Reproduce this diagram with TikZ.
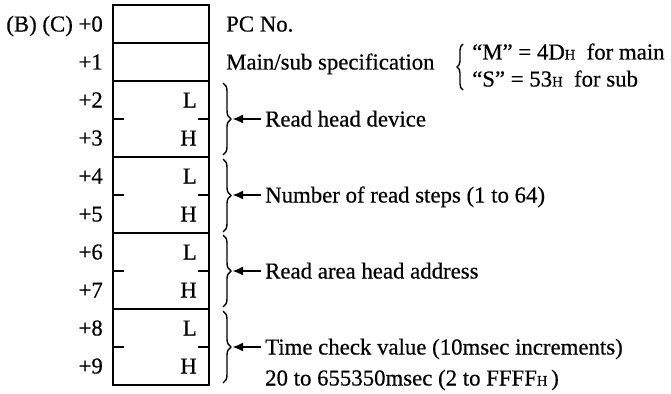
\documentclass[tikz,border=0pt]{standalone}
\usepackage{fontspec}
\setmainfont{Liberation Serif}[FakeBold=0.5]
\usetikzlibrary{decorations.pathreplacing,arrows.meta}
\newcommand{\hsub}{{\fontsize{14.5}{16}\selectfont H}}
\begin{document}
\begin{tikzpicture}[x=1pt,y=-1pt,
  txt/.style={font=\fontsize{22.8}{26}\selectfont, inner sep=0pt, text height=15pt, text depth=0pt},
  cell/.style={draw, line width=2.7pt, minimum width=96pt, minimum height=38pt, inner sep=0pt, outer sep=0pt},
  pair/.style={cell, minimum height=76pt},
  tick/.style={line width=2.6pt},
  rbrace/.style={decorate, decoration={brace, amplitude=8pt}, line width=1.4pt},
  pointer/.style={-{Latex[length=11pt,width=9pt]}, line width=2.2pt}]
\useasboundingbox (0,0) rectangle (671,393);
% memory cells
\node[cell] (s0) at (161,24) {};
\node[cell] (s1) at (161,62) {};
\node[pair] (p1) at (161,119) {};
\node[pair] (p2) at (161,195) {};
\node[pair] (p3) at (161,271) {};
\node[pair] (p4) at (161,347) {};
\foreach \p in {p1,p2,p3,p4}{
  \draw[tick] (\p.west) -- ++(11,0);
  \draw[tick] (\p.east) -- ++(-11,0);
}
% offsets
\node[txt, anchor=east] (o0) at (103,24) {(B) (C) +0};
\node[txt, anchor=east] (o1) at (103,62) {+1};
\node[txt, anchor=east] (o2) at (103,100) {+2};
\node[txt, anchor=east] (o3) at (103,138) {+3};
\node[txt, anchor=east] (o4) at (103,176) {+4};
\node[txt, anchor=east] (o5) at (103,214) {+5};
\node[txt, anchor=east] (o6) at (103,252) {+6};
\node[txt, anchor=east] (o7) at (103,290) {+7};
\node[txt, anchor=east] (o8) at (103,328) {+8};
\node[txt, anchor=east] (o9) at (103,366) {+9};
% L / H
\foreach \n/\y in {a/100,b/176,c/252,d/328}{
  \node[txt, anchor=east] (L\n) at (197,\y) {L};
}
\foreach \n/\y in {a/138,b/214,c/290,d/366}{
  \node[txt, anchor=east] (H\n) at (197,\y) {H};
}
% texts
\node[txt, anchor=west] (pc) at (226,24) {PC No.};
\node[txt, anchor=west] (ms) at (226,62) {Main/sub specification};
\node[txt, anchor=west] (mm) at (472,52) {``M'' = 4D\hsub\enspace for main};
\node[txt, anchor=west] (ss) at (472,79) {``S'' = 53\hsub\enspace for sub};
\draw[decorate, decoration={brace, amplitude=6pt}, line width=1.4pt] (463,90) -- (463,44);
% braces
\draw[rbrace] (223,83) -- (223,155);
\draw[rbrace] (223,159) -- (223,232);
\draw[rbrace] (223,235) -- (223,307);
\draw[rbrace] (223,311) -- (223,383);
\coordinate (ba) at (232,119);
\coordinate (bb) at (232,195);
\coordinate (bc) at (232,271);
\coordinate (bd) at (232,347);
\node[txt, anchor=west] (ta) at (265,119) {Read head device};
\node[txt, anchor=west] (tb) at (265,195) {Number of read steps (1 to 64)};
\node[txt, anchor=west] (tc) at (265,271) {Read area head address};
\node[txt, anchor=west] (td) at (265,347) {Time check value (10msec increments)};
\node[txt, anchor=west] (te) at (265,378) {20 to 655350msec (2 to FFFF\hsub\,)};
\draw[pointer] ([xshift=-4pt]ta.west) -- (ba);
\draw[pointer] ([xshift=-4pt]tb.west) -- (bb);
\draw[pointer] ([xshift=-4pt]tc.west) -- (bc);
\draw[pointer] ([xshift=-4pt]td.west) -- (bd);
\end{tikzpicture}
\end{document}
